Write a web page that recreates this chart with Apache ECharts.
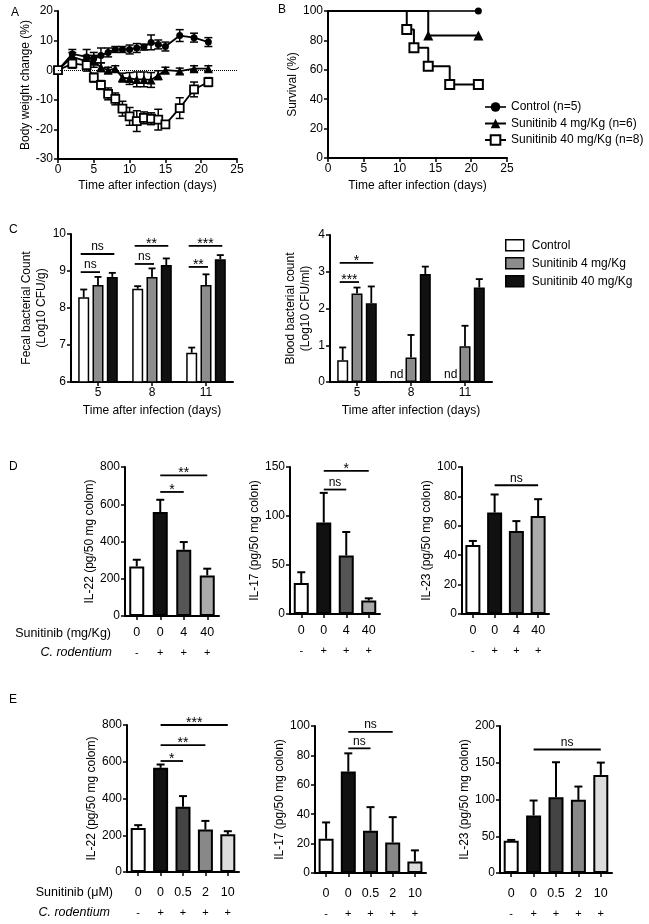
<!DOCTYPE html>
<html><head><meta charset="utf-8">
<script src="https://cdn.jsdelivr.net/npm/echarts@6/dist/echarts.min.js"></script>
<style>html,body{margin:0;padding:0;background:#fff}#c{width:649px;height:924px}</style>
</head><body><div id="c"></div>
<script>
// ---------- DATA ----------
// Panel A: body weight change (%)
const days = [0,2,4,5,6,7,8,9,10,11,12,13,14,15,17,19,21];
const wCtrl    = [0,5.5,4.5,4,5,6,7,7,7,7.5,7.8,9.4,8.7,8,11.7,11,9.5];
const wCtrlSem = [0,1.5,2.5,2,2.5,1.5,1,1,1.5,1.5,1,2.5,1.5,1.5,2,1.5,1.5];
const w4       = [0,4.5,3,3,1,0,0.5,-2.5,-2.8,-3.1,-3.1,-3.3,-1.7,0,-0.3,0.5,0.5];
const w4Sem    = [0,1.5,2,2,1.5,1,1,1.5,2,2.5,2.5,2.5,1.5,1,1,1,1];
const w40      = [0,2.2,1.7,-2.5,-5,-8,-9.7,-13,-15.6,-17.2,-16.1,-16.4,-16.7,-18.3,-12.8,-6.5,-4];
const w40Sem   = [0,1.5,2,1.5,1.5,2,2,2.5,3,3.5,2,2,3.5,1,3.5,2.5,1.5];
// Panel B: survival (%)
const survCtrl = [[0,100],[21,100]];
const surv4    = [[0,100],[14,83.3],[21,83.3]];
const surv40   = [[0,100],[11,87.5],[12,75],[14,62.5],[17,50],[21,50]];
const survNames = ['Control (n=5)','Sunitinib 4 mg/Kg (n=6)','Sunitinib 40 mg/Kg (n=8)'];
// Panel C
const cDays = ['5','8','11'];
const cNames = ['Control','Sunitinib 4 mg/Kg','Sunitinib 40 mg/Kg'];
const fecal    = [[8.29,8.52,6.79],[8.62,8.84,8.62],[8.84,9.16,9.32]];
const fecalSem = [[0.21,0.07,0.14],[0.22,0.23,0.29],[0.11,0.18,0.11]];
const blood    = [[0.59,null,null],[2.41,0.67,0.97],[2.14,2.94,2.57]];
const bloodSem = [[0.35,0,0],[0.16,0.61,0.56],[0.46,0.20,0.23]];
// significance: [category, fromBar, toBar, y, label]
const fecalSig = [[0,0,2,9.46,'ns'],[0,0,1,8.97,'ns'],[1,0,2,9.68,'**'],[1,0,1,9.19,'ns'],[2,0,2,9.68,'***'],[2,0,1,9.11,'**']];
const bloodSig = [[0,0,2,3.24,'*'],[0,0,1,2.72,'***']];
// Panel D (in vivo, mg/Kg)
const dDose = ['0','0','4','40'];
const dInf  = ['-','+','+','+'];
const d22 = [266,558,356,218], d22Sem = [36,66,41,36];
const d17 = [31.6,93.4,59.7,13.7], d17Sem = [11,30.2,24,2.3];
const d23 = [46.9,69,56.4,66.6], d23Sem = [2.8,12.3,6.8,11.5];
// significance: [fromCat, toCat, y, label]
const d22Sig = [[1,3,755,'**'],[1,2,666,'*']];
const d17Sig = [[1,3,146,'*'],[1,2,127,'ns']];
const d23Sig = [[1,3,87.6,'ns']];
// Panel E (in vitro, uM)
const eDose = ['0','0','0.5','2','10'];
const eInf  = ['-','+','+','+','+'];
const e22 = [240,567,355,231,205], e22Sem = [15,18,58,47,17];
const e17 = [23.3,69,28.7,20.8,7.9], e17Sem = [11.1,12.4,16.1,17.2,7.5];
const e23 = [44,78.3,103,99.5,133.5], e23Sem = [1,20.3,47.7,18.1,16.7];
const e22Sig = [[1,4,800,'***'],[1,3,691,'**'],[1,2,604,'*']];
const e17Sig = [[1,3,96,'ns'],[1,2,84.8,'ns']];
const e23Sig = [[1,4,168,'ns']];

// ---------- STYLE / BUILD ----------
const FONT = '"Liberation Sans", Arial, Helvetica, sans-serif';
const BLACK = '#000';
const dColors = ['#ffffff','#111111','#555555','#aaaaaa'];
const eColors = ['#ffffff','#111111','#444444','#888888','#dddddd'];
const cColors = ['#ffffff','#8c8c8c','#111111'];
const C_STEP = 14.3;

const dCats = dDose.map((d,i)=>d+'|'+dInf[i]);
const eCats = eDose.map((d,i)=>d+'|'+eInf[i]);

function mkAxis(o) {
  const cat = o.type === 'category';
  const a = {
    gridIndex: o.grid, type: o.type || 'value',
    axisLine: {show:true, onZero:false, lineStyle:{color:BLACK, width:2}},
    axisTick: {show:true, length:4, alignWithLabel:true, lineStyle:{color:BLACK, width:1.5}},
    axisLabel: Object.assign({color:BLACK, fontSize:12, fontFamily:FONT, margin:5}, o.label||{}),
    splitLine: {show:false},
    nameTextStyle: Object.assign({color:BLACK, fontSize:12, fontFamily:FONT}, o.nameStyle||{})
  };
  if (cat) { a.axisLabel.interval = 0; a.axisTick.interval = 0; }
  ['min','max','interval','name','nameGap','data'].forEach(k=>{ if (o[k]!==undefined) a[k]=o[k]; });
  if (o.name) { a.nameLocation='middle'; if (o.rotate) a.nameRotate=90; }
  return a;
}
const richLabel = (margin) => ({
  margin: margin,
  formatter: v => { const p = v.split('|'); return '{a|'+p[0]+'}\n{b|'+p[1]+'}'; },
  rich: {a:{fontSize:12.5, lineHeight:20, fontFamily:FONT, color:BLACK}, b:{fontSize:11, lineHeight:20, fontFamily:FONT, color:BLACK}}
});

const grids = [
  {left:58, top:11, width:179, height:148},   // A
  {left:328, top:11, width:179, height:147},  // B
  {left:71, top:234, width:162, height:148},  // C1
  {left:330, top:235, width:162, height:147}, // C2
  {left:125, top:467, width:94, height:149},  // D1
  {left:290, top:467, width:90, height:147},  // D2
  {left:462, top:467, width:87, height:147},  // D3
  {left:127, top:725, width:112, height:147}, // E1
  {left:315, top:726, width:111, height:147}, // E2
  {left:500, top:726, width:112, height:147}  // E3
];
const xT = 'Time after infection (days)';
const xAxes = [
  mkAxis({grid:0, min:0, max:25, interval:5, name:xT, nameGap:21}),
  mkAxis({grid:1, min:0, max:25, interval:5, name:xT, nameGap:22}),
  mkAxis({grid:2, type:'category', data:cDays, name:xT, nameGap:23}),
  mkAxis({grid:3, type:'category', data:cDays, name:xT, nameGap:23}),
  mkAxis({grid:4, type:'category', data:dCats, label:richLabel(7)}),
  mkAxis({grid:5, type:'category', data:dCats, label:richLabel(7)}),
  mkAxis({grid:6, type:'category', data:dCats, label:richLabel(7)}),
  mkAxis({grid:7, type:'category', data:eCats, label:richLabel(11)}),
  mkAxis({grid:8, type:'category', data:eCats, label:richLabel(11)}),
  mkAxis({grid:9, type:'category', data:eCats, label:richLabel(11)})
];
const yAxes = [
  mkAxis({grid:0, min:-30, max:20, interval:10, name:'Body weight change (%)', rotate:true, nameGap:24}),
  mkAxis({grid:1, min:0, max:100, interval:20, name:'Survival (%)', rotate:true, nameGap:29}),
  mkAxis({grid:2, min:6, max:10, interval:1, name:'Fecal bacterial Count\n(Log10 CFU/g)', rotate:true, nameGap:22, nameStyle:{lineHeight:15}}),
  mkAxis({grid:3, min:0, max:4, interval:1, name:'Blood bacterial count\n(Log10 CFU/ml)', rotate:true, nameGap:17, nameStyle:{lineHeight:15}}),
  mkAxis({grid:4, min:0, max:800, interval:200, name:'IL-22 (pg/50 mg colom)', rotate:true, nameGap:22}),
  mkAxis({grid:5, min:0, max:150, interval:50, name:'IL-17 (pg/50 mg colon)', rotate:true, nameGap:22}),
  mkAxis({grid:6, min:0, max:100, interval:20, name:'IL-23 (pg/50 mg colon)', rotate:true, nameGap:21}),
  mkAxis({grid:7, min:0, max:800, interval:200, name:'IL-22 (pg/50 mg colom)', rotate:true, nameGap:26}),
  mkAxis({grid:8, min:0, max:100, interval:20, name:'IL-17 (pg/50 mg colon)', rotate:true, nameGap:26}),
  mkAxis({grid:9, min:0, max:200, interval:50, name:'IL-23 (pg/50 mg colon)', rotate:true, nameGap:29})
];

function lineEl(x1,y1,x2,y2,w){ return {type:'line', shape:{x1:x1,y1:y1,x2:x2,y2:y2}, style:{stroke:BLACK, lineWidth:w||1.5}}; }
function textEl(t,x,y,size,va){ return {type:'text', style:{text:t, x:x, y:y, align:'center', verticalAlign:va||'bottom', textAlign:'center', textVerticalAlign:va||'bottom', fontSize:size, fontFamily:FONT, fill:BLACK}}; }

const series = [];
// --- A ---
function aErr(vals, sems) {
  series.push({type:'custom', xAxisIndex:0, yAxisIndex:0, z:1, clip:false,
    data: days.map((d,i)=>[d, vals[i]-sems[i], vals[i]+sems[i]]).filter((r,i)=>sems[i]>0),
    renderItem:(p,api)=>{
      const a=api.coord([api.value(0),api.value(1)]), b=api.coord([api.value(0),api.value(2)]);
      return {type:'group', children:[lineEl(a[0],a[1],b[0],b[1],1.5), lineEl(a[0]-4,a[1],a[0]+4,a[1],1.5), lineEl(b[0]-4,b[1],b[0]+4,b[1],1.5)]};
    }});
}
aErr(wCtrl,wCtrlSem); aErr(w4,w4Sem); aErr(w40,w40Sem);
series.push({name:'A-ctrl', type:'line', xAxisIndex:0, yAxisIndex:0, z:3, data:days.map((d,i)=>[d,wCtrl[i]]),
  symbol:'circle', symbolSize:7, itemStyle:{color:BLACK}, lineStyle:{color:BLACK, width:1.8},
  markLine:{silent:true, symbol:'none', label:{show:false}, lineStyle:{color:BLACK, type:'dotted', width:1}, data:[{yAxis:0}]}});
series.push({name:'A-4', type:'line', xAxisIndex:0, yAxisIndex:0, z:3, data:days.map((d,i)=>[d,w4[i]]),
  symbol:'triangle', symbolSize:9, itemStyle:{color:BLACK}, lineStyle:{color:BLACK, width:1.8}});
series.push({name:'A-40', type:'line', xAxisIndex:0, yAxisIndex:0, z:3, data:days.map((d,i)=>[d,w40[i]]),
  symbol:'rect', symbolSize:8, itemStyle:{color:'#fff', borderColor:BLACK, borderWidth:1.8}, lineStyle:{color:BLACK, width:1.8}});
// --- B ---
function survData(arr){ return arr.map((p,i)=> i===0 ? {value:p, symbol:'none'} : {value:p}); }
series.push({name:survNames[0], type:'line', step:'end', xAxisIndex:1, yAxisIndex:1, z:3, data:survData(survCtrl),
  symbol:'circle', symbolSize:7, itemStyle:{color:BLACK}, lineStyle:{color:'#333', width:2}});
series.push({name:survNames[1], type:'line', step:'end', xAxisIndex:1, yAxisIndex:1, z:3, data:survData(surv4),
  symbol:'triangle', symbolSize:10, itemStyle:{color:BLACK}, lineStyle:{color:BLACK, width:2}});
series.push({name:survNames[2], type:'line', step:'end', xAxisIndex:1, yAxisIndex:1, z:4, data:survData(surv40),
  symbol:'rect', symbolSize:9, itemStyle:{color:'#fff', borderColor:BLACK, borderWidth:2}, lineStyle:{color:BLACK, width:2}});
// --- C ---
function cPanel(ax, vals, sems, sigs) {
  vals.forEach((v,k)=>{
    series.push({name:cNames[k], type:'bar', xAxisIndex:ax, yAxisIndex:ax, z:2, data:v, barWidth:11, barGap:'30%',
      itemStyle:{color:cColors[k], borderColor:BLACK, borderWidth:1.5}});
  });
  const rows=[];
  vals.forEach((v,k)=>v.forEach((val,i)=>{ if (val!==null) rows.push([i,val,val+sems[k][i],k]); }));
  series.push({type:'custom', xAxisIndex:ax, yAxisIndex:ax, z:1, clip:false, data:rows,
    renderItem:(p,api)=>{
      const a=api.coord([api.value(0),api.value(1)]), b=api.coord([api.value(0),api.value(2)]);
      const x=a[0]+(api.value(3)-1)*C_STEP;
      return {type:'group', children:[lineEl(x,a[1],x,b[1],1.8), lineEl(x-3.5,b[1],x+3.5,b[1],1.8)]};
    }});
  series.push({type:'custom', xAxisIndex:ax, yAxisIndex:ax, z:3, clip:false, data:sigs.map(s=>[s[0],s[3]]),
    renderItem:(p,api)=>{
      const s=sigs[p.dataIndex]; const c=api.coord([s[0],s[3]]);
      const x1=c[0]+(s[1]-1)*C_STEP-3, x2=c[0]+(s[2]-1)*C_STEP+2;
      const star=s[4].indexOf('*')>=0;
      return {type:'group', children:[lineEl(x1,c[1],x2,c[1],1.8), textEl(s[4],(x1+x2)/2,c[1]+(star?5:-1),star?14:12)]};
    }});
}
cPanel(2, fecal, fecalSem, fecalSig);
cPanel(3, blood, bloodSem, bloodSig);
const ndRows = blood[0].map((v,i)=>v===null?[i,0]:null).filter(r=>r);
series.push({type:'custom', xAxisIndex:3, yAxisIndex:3, z:3, clip:false, data:ndRows,
  renderItem:(p,api)=>{ const c=api.coord([api.value(0),0]); return textEl('nd', c[0]-C_STEP, c[1]-1, 12); }});
// --- D / E ---
function catPanel(ax, vals, sems, sigs, colors) {
  series.push({type:'bar', xAxisIndex:ax, yAxisIndex:ax, z:2, barWidth:15,
    data: vals.map((v,i)=>({value:v, itemStyle:{color:colors[i]}})),
    itemStyle:{borderColor:BLACK, borderWidth:2}});
  series.push({type:'custom', xAxisIndex:ax, yAxisIndex:ax, z:1, clip:false, data: vals.map((v,i)=>[i,v,v+sems[i]]),
    renderItem:(p,api)=>{
      const a=api.coord([api.value(0),api.value(1)]), b=api.coord([api.value(0),api.value(2)]);
      return {type:'group', children:[lineEl(a[0],a[1],a[0],b[1],2), lineEl(a[0]-4,b[1],a[0]+4,b[1],2)]};
    }});
  series.push({type:'custom', xAxisIndex:ax, yAxisIndex:ax, z:3, clip:false, data:sigs.map(s=>[s[0],s[2]]),
    renderItem:(p,api)=>{
      const s=sigs[p.dataIndex]; const a=api.coord([s[0],s[2]]), b=api.coord([s[1],s[2]]);
      const star=s[3].indexOf('*')>=0;
      return {type:'group', children:[lineEl(a[0],a[1],b[0],a[1],1.8), textEl(s[3],(a[0]+b[0])/2,a[1]+(star?5:-1),star?14:12)]};
    }});
}
catPanel(4, d22, d22Sem, d22Sig, dColors);
catPanel(5, d17, d17Sem, d17Sig, dColors);
catPanel(6, d23, d23Sem, d23Sig, dColors);
catPanel(7, e22, e22Sem, e22Sig, eColors);
catPanel(8, e17, e17Sem, e17Sig, eColors);
catPanel(9, e23, e23Sem, e23Sig, eColors);

function gText(t, x, y, align, extra) {
  return {type:'text', x:x, y:y, style:Object.assign({text:t, fontSize:12, fontFamily:FONT, fill:BLACK,
    align:align||'left', textAlign:align||'left', verticalAlign:'middle', textVerticalAlign:'middle'}, extra||{})};
}

const option = {
  animation:false,
  backgroundColor:'#fff',
  grid: grids,
  xAxis: xAxes,
  yAxis: yAxes,
  legend: [
    {data:survNames, orient:'vertical', left:484, top:101, padding:0, itemWidth:21, itemHeight:12, itemGap:4.5,
     textStyle:{color:BLACK, fontSize:12, fontFamily:FONT, lineHeight:12}},
    {data:cNames, orient:'vertical', left:505, top:239, padding:0, icon:'rect', itemWidth:18, itemHeight:11, itemGap:5.5,
     itemStyle:{borderColor:BLACK, borderWidth:1.5},
     textStyle:{color:BLACK, fontSize:12, fontFamily:FONT, lineHeight:12, padding:[0,0,0,3]}}
  ],
  graphic: [
    gText('A', 11, 13), gText('B', 278, 10), gText('C', 9, 230), gText('D', 9, 467), gText('E', 9, 700),
    gText('Sunitinib (mg/Kg)', 111, 634, 'right', {fontSize:12.5}),
    gText('C. rodentium', 112, 653, 'right', {fontStyle:'italic', fontSize:12.5}),
    gText('Sunitinib (\u03bcM)', 113, 893, 'right', {fontSize:12.5}),
    gText('C. rodentium', 110, 913, 'right', {fontStyle:'italic', fontSize:12.5})
  ],
  series: series
};
const chart = echarts.init(document.getElementById('c'), null, {renderer:'canvas'});
chart.setOption(option);
</script></body></html>
